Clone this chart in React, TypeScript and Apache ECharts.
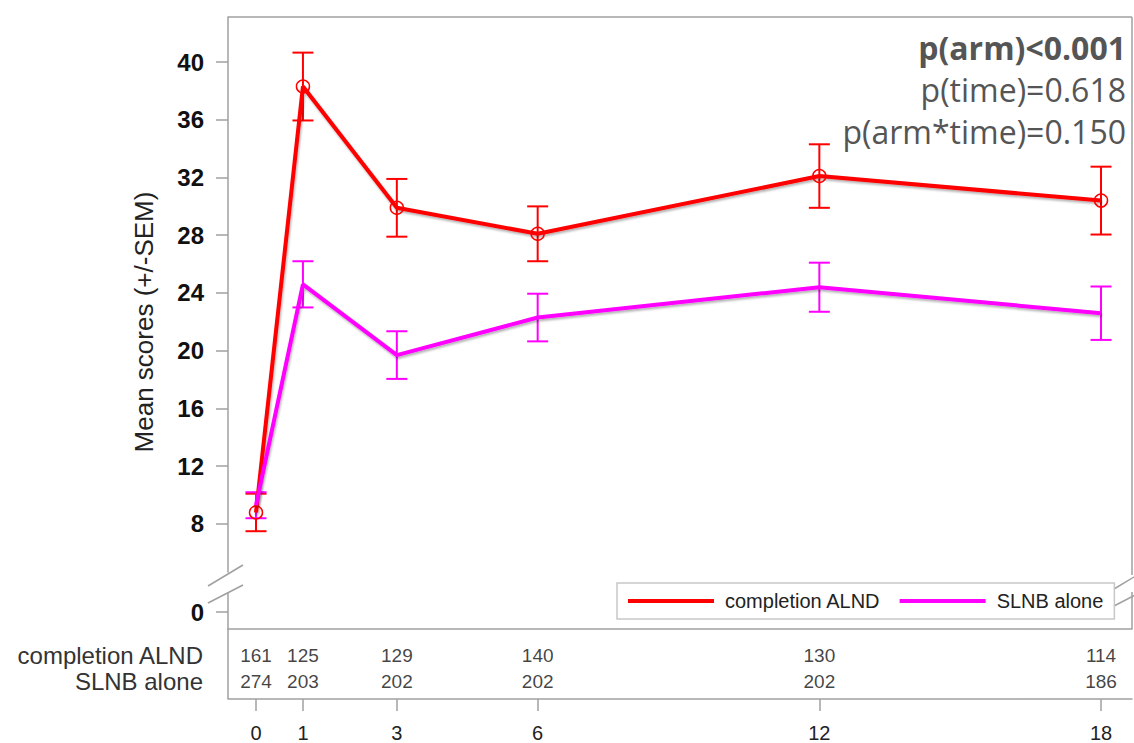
import React, { useEffect, useRef } from "react";
import * as echarts from "echarts";

const months = [0, 1, 3, 6, 12, 18];
const alndMean = [8.8, 38.3, 29.9, 28.1, 32.1, 30.4];
const alndSem = [1.3, 2.35, 2.0, 1.9, 2.2, 2.35];
const slnbMean = [9.3, 24.6, 19.7, 22.3, 24.4, 22.6];
const slnbSem = [0.9, 1.6, 1.65, 1.65, 1.7, 1.85];
const alndN = [161, 125, 129, 140, 130, 114];
const slnbN = [274, 203, 202, 202, 202, 186];
const rowNames = ["completion ALND", "SLNB alone"];
const yTicks = [8, 12, 16, 20, 24, 28, 32, 36, 40];
const pTexts = ["p(arm)<0.001", "p(time)=0.618", "p(arm*time)=0.150"];
const seriesNames = ["completion ALND", "SLNB alone"];
const seriesColors = ["#ff0000", "#ff00ff"];

const FONT = "'Liberation Sans', Arial, sans-serif";
const GREY = "#a0a0a0";
const XMIN = -0.5965;
const XMAX = 18.66;

function errorBarSeries(name: string, mean: number[], sem: number[], color: string) {
  return {
    type: "custom",
    name,
    xAxisIndex: 0,
    yAxisIndex: 0,
    z: 3,
    data: months.map((m, i) => [m, mean[i] - sem[i], mean[i] + sem[i]]),
    renderItem: (params: any, api: any) => {
      const x = api.value(0);
      const lo = api.coord([x, api.value(1)]);
      const hi = api.coord([x, api.value(2)]);
      const hw = 10.5;
      const style = { stroke: color, lineWidth: 2 };
      return {
        type: "group",
        children: [
          { type: "line", shape: { x1: lo[0], y1: lo[1], x2: hi[0], y2: hi[1] }, style },
          { type: "line", shape: { x1: lo[0] - hw, y1: lo[1], x2: lo[0] + hw, y2: lo[1] }, style },
          { type: "line", shape: { x1: hi[0] - hw, y1: hi[1], x2: hi[0] + hw, y2: hi[1] }, style },
        ],
      };
    },
  };
}

export default function App() {
  const ref = useRef<HTMLDivElement>(null);
  useEffect(() => {
    if (!ref.current) return;
    const chart = echarts.init(ref.current, undefined, { renderer: "svg" });
    const hiddenX = (gridIndex: number, showLine: boolean) => ({
      type: "value",
      gridIndex,
      min: XMIN,
      max: XMAX,
      axisLine: { show: showLine, onZero: false, lineStyle: { color: GREY, width: 1.5 } },
      axisTick: { show: false },
      axisLabel: { show: false },
      splitLine: { show: false },
    });
    const option: any = {
      animation: false,
      backgroundColor: "#ffffff",
      textStyle: { fontFamily: FONT },
      grid: [
        { left: 228, top: 17, width: 904, height: 555 },
        { left: 228, top: 593, width: 904, height: 36 },
        { left: 228, top: 642, width: 904, height: 52 },
      ],
      xAxis: [
        hiddenX(0, false),
        hiddenX(1, true),
        {
          type: "value",
          gridIndex: 2,
          min: XMIN,
          max: XMAX,
          offset: 5,
          axisLine: { show: true, onZero: false, lineStyle: { color: GREY, width: 1.5 } },
          axisTick: { show: true, customValues: months, length: 12, lineStyle: { color: GREY, width: 1.5 } },
          axisLabel: { show: true, customValues: months, fontSize: 20, color: "#222", margin: 24, fontFamily: FONT },
          splitLine: { show: false },
        },
      ],
      yAxis: [
        {
          type: "value",
          gridIndex: 0,
          min: 4.675,
          max: 43.117,
          axisLine: { show: true, onZero: false, lineStyle: { color: GREY, width: 1.5 } },
          axisTick: { show: true, customValues: yTicks, length: 12, lineStyle: { color: GREY, width: 1.5 } },
          axisLabel: { show: true, customValues: yTicks, fontSize: 24, fontWeight: "bold", color: "#111", margin: 24, fontFamily: FONT },
          splitLine: { show: false },
        },
        {
          type: "value",
          gridIndex: 1,
          min: -1.545,
          max: 1.727,
          axisLine: { show: true, onZero: false, lineStyle: { color: GREY, width: 1.5 } },
          axisTick: { show: true, customValues: [0], length: 12, lineStyle: { color: GREY, width: 1.5 } },
          axisLabel: { show: true, customValues: [0], fontSize: 24, fontWeight: "bold", color: "#111", margin: 24, fontFamily: FONT },
          splitLine: { show: false },
        },
        {
          type: "category",
          gridIndex: 2,
          data: rowNames,
          inverse: true,
          axisLine: { show: false, onZero: false },
          axisTick: { show: false },
          axisLabel: { interval: 0, fontSize: 24, color: "#333", margin: 25, fontFamily: FONT },
        },
      ],
      legend: {
        left: 617,
        top: 583,
        orient: "horizontal",
        padding: [8, 11, 8, 11],
        borderColor: "#c8c8c8",
        borderWidth: 1.5,
        itemWidth: 86,
        itemHeight: 4,
        itemGap: 19,
        icon: "rect",
        textStyle: { fontSize: 20, color: "#222", fontFamily: FONT, padding: [0, 0, 0, 6] },
        data: seriesNames.map((n, i) => ({ name: n, icon: "rect", itemStyle: { color: seriesColors[i], borderWidth: 0 } })),
      },
      series: [
        {
          type: "line",
          name: seriesNames[0],
          xAxisIndex: 0,
          yAxisIndex: 0,
          z: 4,
          data: months.map((m, i) => [m, alndMean[i]]),
          symbol: "circle",
          symbolSize: 13,
          itemStyle: { color: "rgba(0,0,0,0)", borderColor: seriesColors[0], borderWidth: 1.5 },
          lineStyle: { color: seriesColors[0], width: 4, shadowColor: "rgba(0,0,0,0.3)", shadowBlur: 2, shadowOffsetX: 1, shadowOffsetY: 2 },
        },
        errorBarSeries("aln_err", alndMean, alndSem, seriesColors[0]),
        {
          type: "line",
          name: seriesNames[1],
          xAxisIndex: 0,
          yAxisIndex: 0,
          z: 5,
          data: months.map((m, i) => [m, slnbMean[i]]),
          symbol: "none",
          itemStyle: { color: seriesColors[1] },
          lineStyle: { color: seriesColors[1], width: 4, shadowColor: "rgba(0,0,0,0.3)", shadowBlur: 2, shadowOffsetX: 1, shadowOffsetY: 2 },
        },
        errorBarSeries("slnb_err", slnbMean, slnbSem, seriesColors[1]),
        {
          type: "scatter",
          name: "counts",
          xAxisIndex: 2,
          yAxisIndex: 2,
          symbolSize: 0,
          data: [
            ...months.map((m, i) => [m, rowNames[0], alndN[i]]),
            ...months.map((m, i) => [m, rowNames[1], slnbN[i]]),
          ],
          label: {
            show: true,
            position: "inside",
            formatter: (p: any) => String(p.value[2]),
            fontSize: 19,
            color: "#111",
            fontFamily: FONT,
          },
        },
      ],
      graphic: [
        { type: "line", shape: { x1: 228, y1: 17, x2: 1132, y2: 17 }, style: { stroke: GREY, lineWidth: 1.5 } },
        { type: "line", shape: { x1: 1132, y1: 17, x2: 1132, y2: 575 }, style: { stroke: GREY, lineWidth: 1.5 } },
        { type: "line", shape: { x1: 1132, y1: 592, x2: 1132, y2: 629 }, style: { stroke: GREY, lineWidth: 1.5 } },
        { type: "line", shape: { x1: 228, y1: 629, x2: 228, y2: 699 }, style: { stroke: GREY, lineWidth: 1.5 } },
        { type: "line", shape: { x1: 208, y1: 586, x2: 243, y2: 565 }, style: { stroke: GREY, lineWidth: 1.5 } },
        { type: "line", shape: { x1: 208, y1: 603, x2: 243, y2: 585 }, style: { stroke: GREY, lineWidth: 1.5 } },
        { type: "line", shape: { x1: 1114, y1: 589, x2: 1149, y2: 568 }, style: { stroke: GREY, lineWidth: 1.5 } },
        { type: "line", shape: { x1: 1114, y1: 606, x2: 1149, y2: 588 }, style: { stroke: GREY, lineWidth: 1.5 } },
        {
          type: "text",
          x: 144,
          y: 322,
          rotation: Math.PI / 2,
          style: { text: "Mean scores (+/-SEM)", fontSize: 26, fontFamily: FONT, fill: "#222", align: "center", verticalAlign: "middle" },
        },
        ...pTexts.map((t, i) => ({
          type: "text",
          x: 1126,
          y: 47 + i * 42,
          style: {
            text: t,
            fontSize: 32,
            fontWeight: i === 0 ? "bold" : "normal",
            fontFamily: "'Open Sans', 'Noto Sans', sans-serif",
            fill: "#555555",
            align: "right",
            verticalAlign: "middle",
          },
        })),
      ],
    };
    chart.setOption(option);
    return () => chart.dispose();
  }, []);
  return <div ref={ref} style={{ position: "absolute", left: 0, top: 0, width: 1134, height: 743 }} />;
}
